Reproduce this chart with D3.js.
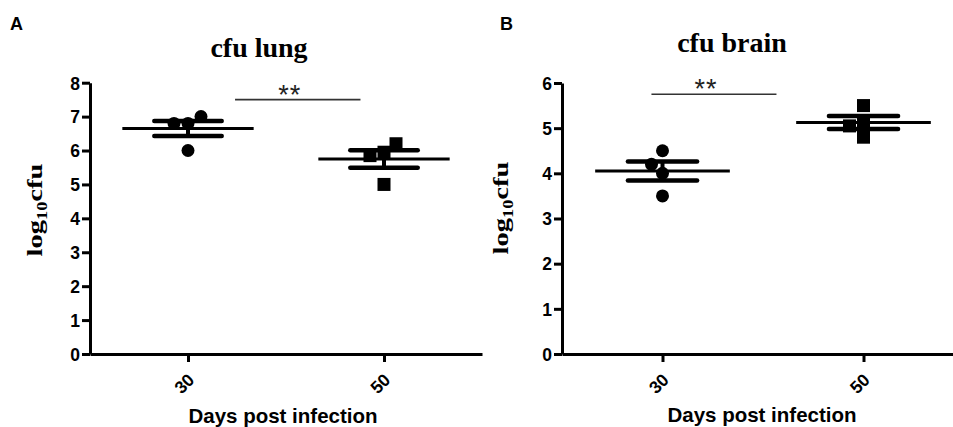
<!DOCTYPE html>
<html><head><meta charset="utf-8">
<script src="https://cdn.jsdelivr.net/npm/d3@7"></script>
<style>body{margin:0;background:#fff} svg{display:block}</style>
</head><body>
<svg id="c" width="953" height="427"></svg>
<script>
// ---- data ----
const days = ["30", "50"];
const lungDay30 = [6.0, 6.8, 6.8, 7.0];
const lungDay50 = [5.0, 5.95, 5.85, 6.2];
const brainDay30 = [3.5, 4.5, 4.0, 4.2];
const brainDay50 = [5.5, 4.8, 5.15, 5.05];
const lungTicks = [0, 1, 2, 3, 4, 5, 6, 7, 8];
const brainTicks = [0, 1, 2, 3, 4, 5, 6];
const panelLetters = ["A", "B"];
const panelTitles = ["cfu lung", "cfu brain"];
const sigLabel = "**";
const lungSigValue = 7.5;
const brainSigValue = 5.75;
const xTitle = "Days post infection";

const svg = d3.select("#c");
const SANS = "'Liberation Sans', Arial, sans-serif";
const SERIF = "'Liberation Serif', 'Times New Roman', serif";

const panels = [
  { letter: panelLetters[0], title: panelTitles[0], groups: [lungDay30, lungDay50],
    ticks: lungTicks, yMax: 8, sig: lungSigValue,
    xr: [90, 482], yr: [354, 82.7], letterPos: [10, 30], titlePos: [259, 57],
    yLab: [42, 210], xLab: [283, 423], sigSpan: [0.24, 0.88] },
  { letter: panelLetters[1], title: panelTitles[1], groups: [brainDay30, brainDay50],
    ticks: brainTicks, yMax: 6, sig: brainSigValue,
    xr: [562, 964], yr: [354, 83], letterPos: [500, 30], titlePos: [732, 52],
    yLab: [508, 208], xLab: [762, 422], sigSpan: [-0.055, 0.567] }
];

// simple dodge so overlapping points spread sideways
function dodge(vals, y, D) {
  const placed = [];
  vals.forEach(v => {
    const py = y(v);
    let off = 0;
    const ok = o => placed.every(p => Math.hypot(p.dx - o, p.py - py) >= D);
    if (!ok(0)) {
      for (let m = 1; m < 60; m++) {
        if (ok(-m)) { off = -m; break; }
        if (ok(m)) { off = m; break; }
      }
    }
    placed.push({ v, py, dx: off });
  });
  return placed;
}

panels.forEach((P, pi) => {
  const g = svg.append("g");
  const x = d3.scalePoint().domain(days).range(P.xr).padding(0.5);
  const y = d3.scaleLinear().domain([0, P.yMax]).range(P.yr);
  const step = x.step();

  // axes
  const ya = g.append("g").attr("transform", `translate(${P.xr[0]},0)`)
    .call(d3.axisLeft(y).tickValues(P.ticks).tickSize(8).tickSizeOuter(0).tickPadding(2).tickFormat(d3.format("d")));
  const xa = g.append("g").attr("transform", `translate(0,${P.yr[0]})`)
    .call(d3.axisBottom(x).tickSize(8).tickSizeOuter(0).tickPadding(3));
  [ya, xa].forEach(a => {
    a.select(".domain").style("stroke", "#000").style("stroke-width", "3px");
    a.selectAll(".tick line").style("stroke", "#000").style("stroke-width", "3px");
    a.selectAll(".tick text").style("fill", "#000").style("font-family", SANS)
      .style("font-weight", "bold").style("font-size", "17.5px");
  });
  ya.selectAll(".tick text").attr("dy", "0.36em");
  xa.selectAll(".tick text")
    .attr("text-anchor", "end").attr("dy", null).attr("y", 0)
    .attr("transform", "translate(7,27) rotate(-45)");

  // points, mean, SEM
  P.groups.forEach((vals, gi) => {
    const cx = x(days[gi]);
    const pts = dodge(vals, y, 14);
    const mean = d3.mean(vals);
    const sem = d3.deviation(vals) / Math.sqrt(vals.length);
    if (gi === 0) {
      g.selectAll(null).data(pts).enter().append("circle")
        .attr("cx", d => cx + d.dx).attr("cy", d => d.py).attr("r", 6.5).attr("fill", "#000");
    } else {
      g.selectAll(null).data(pts).enter().append("rect")
        .attr("x", d => cx + d.dx - 6.5).attr("y", d => d.py - 6.5)
        .attr("width", 13).attr("height", 13).attr("fill", "#000");
    }
    const mh = 0.335 * step, sh = 0.172 * step;
    g.append("line").attr("x1", cx - mh).attr("x2", cx + mh)
      .attr("y1", y(mean)).attr("y2", y(mean))
      .attr("stroke", "#000").attr("stroke-width", 3);
    [mean + sem, mean - sem].forEach(v => {
      g.append("line").attr("x1", cx - sh).attr("x2", cx + sh)
        .attr("y1", y(v)).attr("y2", y(v))
        .attr("stroke", "#000").attr("stroke-width", 4.5).attr("stroke-linecap", "round");
    });
    g.append("line").attr("x1", cx).attr("x2", cx)
      .attr("y1", y(mean + sem)).attr("y2", y(mean - sem))
      .attr("stroke", "#000").attr("stroke-width", 4);
  });

  // significance
  const ix = d3.scaleLinear().domain([0, 1]).range([x(days[0]), x(days[1])]);
  const sx1 = ix(P.sigSpan[0]), sx2 = ix(P.sigSpan[1]);
  g.append("line").attr("x1", sx1).attr("x2", sx2)
    .attr("y1", y(P.sig)).attr("y2", y(P.sig))
    .attr("stroke", "#333").attr("stroke-width", 1.6);
  g.append("text").attr("x", (sx1 + sx2) / 2 - 8).attr("y", y(P.sig) + 4)
    .attr("text-anchor", "middle").attr("font-family", SANS).attr("font-size", 27)
    .attr("letter-spacing", 1).attr("fill", "#222").text(sigLabel);

  // labels
  g.append("text").attr("x", P.letterPos[0]).attr("y", P.letterPos[1])
    .attr("font-family", SANS).attr("font-weight", "bold").attr("font-size", 18).text(P.letter);
  g.append("text").attr("x", P.titlePos[0]).attr("y", P.titlePos[1])
    .attr("text-anchor", "middle").attr("font-family", SERIF).attr("font-weight", "bold")
    .attr("font-size", 28).text(P.title);
  g.append("text").attr("x", P.xLab[0]).attr("y", P.xLab[1])
    .attr("text-anchor", "middle").attr("font-family", SANS).attr("font-weight", "bold")
    .attr("font-size", 20.5).text(xTitle);
  const yl = g.append("text")
    .attr("transform", `translate(${P.yLab[0]},${P.yLab[1]}) rotate(-90) scale(1.3,1)`)
    .attr("text-anchor", "middle").attr("font-family", SERIF).attr("font-weight", "bold")
    .attr("font-size", 22);
  yl.append("tspan").text("log");
  yl.append("tspan").attr("font-size", 14).attr("dy", 5).text("10");
  yl.append("tspan").attr("dy", -5).text("cfu");
});
</script>
</body></html>
